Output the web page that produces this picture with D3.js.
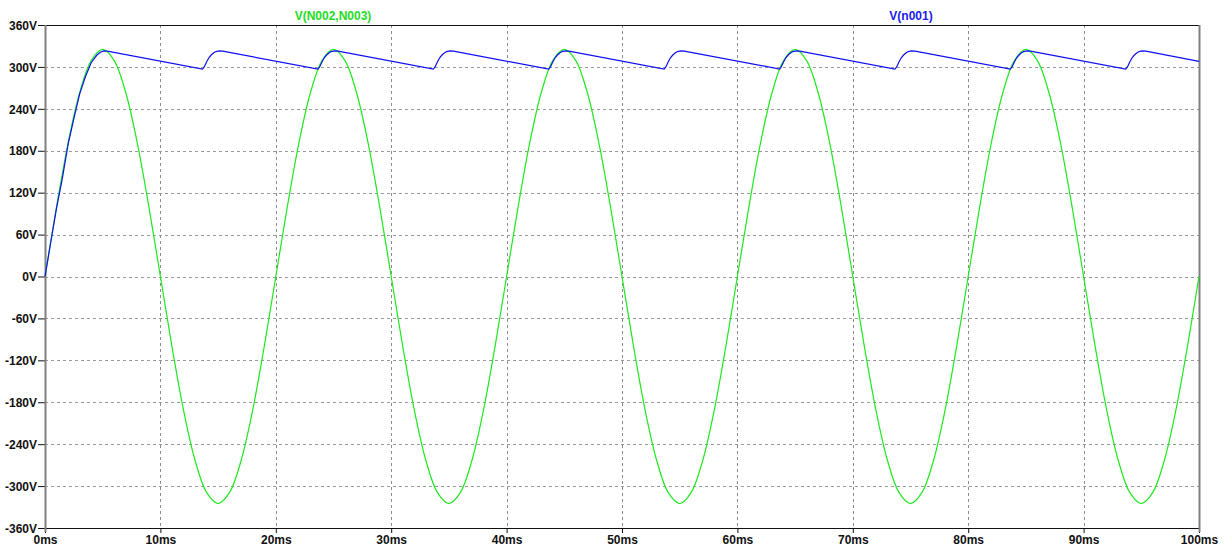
<!DOCTYPE html>
<html>
<head>
<meta charset="utf-8">
<script src="https://cdn.jsdelivr.net/npm/d3@7"></script>
<style>
    body { margin: 0; background: #fff; }
    text { font-family: "Liberation Sans", Arial, sans-serif; font-weight: bold; font-size: 12px; fill: #111; }
</style>
</head>
<body>
<div id="plot"></div>
<script>
// STEP 1: data
var xTicks = [0, 10, 20, 30, 40, 50, 60, 70, 80, 90, 100];
var yTicks = [-360, -300, -240, -180, -120, -60, 0, 60, 120, 180, 240, 300, 360];

// V(N002,N003), one value per ms from 0 to 100ms
var greenTime = d3.range(0, 101);
var greenValues = [
    0, 100, 191, 263, 309, 325, 309, 263, 191, 100,
    0, -100, -191, -263, -309, -325, -309, -263, -191, -100,
    0, 100, 191, 263, 309, 325, 309, 263, 191, 100,
    0, -100, -191, -263, -309, -325, -309, -263, -191, -100,
    0, 100, 191, 263, 309, 325, 309, 263, 191, 100,
    0, -100, -191, -263, -309, -325, -309, -263, -191, -100,
    0, 100, 191, 263, 309, 325, 309, 263, 191, 100,
    0, -100, -191, -263, -309, -325, -309, -263, -191, -100,
    0, 100, 191, 263, 309, 325, 309, 263, 191, 100,
    0, -100, -191, -263, -309, -325, -309, -263, -191, -100,
    0
];

// V(n001) breakpoints (ms, V)
var blueTime = [
    0, 0.5, 1, 1.5, 2, 2.5, 3, 3.5, 4, 4.5, 4.8, 5.1, 5.4,
    13.65, 13.8, 14.0, 14.2, 14.4, 14.6, 14.8, 15.1, 15.4,
    23.65, 23.8, 24.0, 24.2, 24.4, 24.6, 24.8, 25.1, 25.4,
    33.65, 33.8, 34.0, 34.2, 34.4, 34.6, 34.8, 35.1, 35.4,
    43.65, 43.8, 44.0, 44.2, 44.4, 44.6, 44.8, 45.1, 45.4,
    53.65, 53.8, 54.0, 54.2, 54.4, 54.6, 54.8, 55.1, 55.4,
    63.65, 63.8, 64.0, 64.2, 64.4, 64.6, 64.8, 65.1, 65.4,
    73.65, 73.8, 74.0, 74.2, 74.4, 74.6, 74.8, 75.1, 75.4,
    83.65, 83.8, 84.0, 84.2, 84.4, 84.6, 84.8, 85.1, 85.4,
    93.65, 93.8, 94.0, 94.2, 94.4, 94.6, 94.8, 95.1, 95.4,
    100
];
var blueValues = [
    0, 49, 98, 140, 189, 226, 261, 286, 306, 317, 321, 323, 322.5,
    297, 300, 307, 313, 317, 320, 322, 323, 322.5,
    297, 300, 307, 313, 317, 320, 322, 323, 322.5,
    297, 300, 307, 313, 317, 320, 322, 323, 322.5,
    297, 300, 307, 313, 317, 320, 322, 323, 322.5,
    297, 300, 307, 313, 317, 320, 322, 323, 322.5,
    297, 300, 307, 313, 317, 320, 322, 323, 322.5,
    297, 300, 307, 313, 317, 320, 322, 323, 322.5,
    297, 300, 307, 313, 317, 320, 322, 323, 322.5,
    297, 300, 307, 313, 317, 320, 322, 323, 322.5,
    308
];

// STEP 2: svg
var svgWidth = 1232;
var svgHeight = 546;

var plotLeft = 45, plotRight = 1199, plotTop = 25, plotBottom = 528;

var svg = d3.select("#plot")
    .append("svg")
    .attr("width", svgWidth)
    .attr("height", svgHeight);

// STEP 3: scales
var xScale = d3.scaleLinear().domain([0, 100]).range([plotLeft, plotRight]);
var yScale = d3.scaleLinear().domain([-360, 360]).range([plotBottom, plotTop]);

// grid lines
svg.append("g")
    .selectAll("line")
    .data(xTicks.slice(1, -1))
    .enter()
    .append("line")
    .attr("x1", d => Math.round(xScale(d)) + 0.5)
    .attr("x2", d => Math.round(xScale(d)) + 0.5)
    .attr("y1", plotTop)
    .attr("y2", plotBottom)
    .attr("stroke", "#8c8c8c")
    .attr("stroke-dasharray", "3,3");

svg.append("g")
    .selectAll("line")
    .data(yTicks.slice(1, -1))
    .enter()
    .append("line")
    .attr("x1", plotLeft)
    .attr("x2", plotRight)
    .attr("y1", d => Math.round(yScale(d)) + 0.5)
    .attr("y2", d => Math.round(yScale(d)) + 0.5)
    .attr("stroke", "#9a9a9a")
    .attr("stroke-dasharray", "3,3");

// axes
var bottomAxis = d3.axisBottom(xScale)
    .tickValues(xTicks)
    .tickSize(5)
    .tickPadding(3)
    .tickFormat(d => d + "ms");

var leftAxis = d3.axisLeft(yScale)
    .tickValues(yTicks)
    .tickSize(7)
    .tickPadding(1)
    .tickFormat(d => d + "V");

var xAxis = svg.append("g")
    .attr("transform", `translate(0, ${plotBottom})`)
    .call(bottomAxis);
xAxis.select(".domain").attr("stroke", "#111");
xAxis.selectAll(".tick line").attr("stroke", "#111");
xAxis.selectAll("text")
    .attr("y", 7)
    .attr("dy", "0.72em");

var yAxis = svg.append("g")
    .attr("transform", `translate(${plotLeft}, 0)`)
    .call(leftAxis);
yAxis.select(".domain").remove();
yAxis.selectAll(".tick line").attr("stroke", "#111");
yAxis.selectAll("text").attr("dy", "0.35em");

// top border, left and right frame
svg.append("line")
    .attr("x1", plotLeft).attr("x2", plotRight)
    .attr("y1", plotTop + 0.5).attr("y2", plotTop + 0.5)
    .attr("stroke", "#111");

svg.append("line")
    .attr("x1", plotLeft + 0.5).attr("x2", plotLeft + 0.5)
    .attr("y1", plotTop).attr("y2", plotBottom + 4)
    .attr("stroke", "#808080")
    .attr("stroke-width", 2);

svg.append("line")
    .attr("x1", plotRight + 0.5).attr("x2", plotRight + 0.5)
    .attr("y1", plotTop).attr("y2", plotBottom + 4)
    .attr("stroke", "#808080")
    .attr("stroke-width", 2);

// STEP 4: traces
var greenLine = d3.line()
    .x((d, i) => xScale(greenTime[i]))
    .y(d => yScale(d))
    .curve(d3.curveCatmullRom);

svg.append("path")
    .datum(greenValues)
    .attr("d", greenLine)
    .attr("fill", "none")
    .attr("stroke", "#1ee81e")
    .attr("stroke-width", 1.2);

// blue is piecewise: sharp cusp at each recharge start
var blueLine = d3.line()
    .x((d, i) => xScale(blueTime[i]))
    .y(d => yScale(d));

svg.append("path")
    .datum(blueValues)
    .attr("d", blueLine)
    .attr("fill", "none")
    .attr("stroke", "#1010f0")
    .attr("stroke-width", 1.2);

// trace labels
svg.append("text")
    .attr("x", 333)
    .attr("y", 20)
    .attr("text-anchor", "middle")
    .style("fill", "#22dd22")
    .text("V(N002,N003)");

svg.append("text")
    .attr("x", 911)
    .attr("y", 20)
    .attr("text-anchor", "middle")
    .style("fill", "#1a1aee")
    .text("V(n001)");
</script>
</body>
</html>
